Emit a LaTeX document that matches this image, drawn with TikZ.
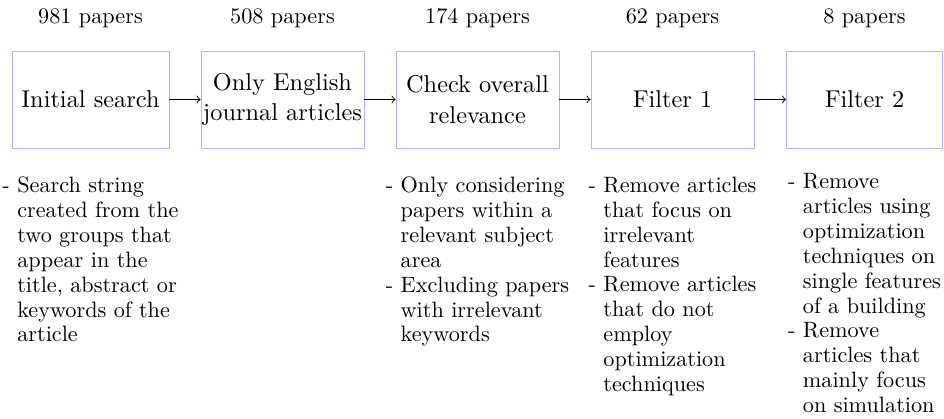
\documentclass[tikz,border=0pt]{standalone}
\usetikzlibrary{arrows}
% indentation that lines up continuation lines after a leading "- "
\newcommand{\dashind}{\hphantom{- }}
\begin{document}
\begin{tikzpicture}[x=0.45pt, y=-0.45pt,
  stagebox/.style={draw=blue!30, line width=0.4pt, inner sep=0pt,
    minimum height=43.65pt, align=center,
    font=\fontsize{10.95}{13.6}\selectfont},
  countlabel/.style={anchor=base, inner sep=0pt,
    font=\fontsize{10}{12}\selectfont},
  notes/.style={anchor=north, inner sep=0pt, align=left,
    font=\fontsize{10}{11.2}\selectfont},
  flow/.style={->, line width=0.4pt}]
\useasboundingbox (0,0) rectangle (944,419);

% stages of the selection process
\node[stagebox, minimum width=70.65pt] (s1) at (90.5,99.5) {Initial search};
\node[stagebox, minimum width=73.35pt] (s2) at (282.5,99.5) {Only English\\journal articles};
\node[stagebox, minimum width=73.35pt] (s3) at (477.5,99.5) {Check overall\\relevance};
\node[stagebox, minimum width=73.35pt] (s4) at (672.5,99.5) {Filter 1};
\node[stagebox, minimum width=70.2pt]  (s5) at (864.5,99.5) {Filter 2};

\draw[flow] (s1) -- (s2);
\draw[flow] (s2) -- (s3);
\draw[flow] (s3) -- (s4);
\draw[flow] (s4) -- (s5);

% number of papers after each stage
\node[countlabel] (c1) at (90.5,23.3)  {981 papers};
\node[countlabel] (c2) at (282.5,23.3) {508 papers};
\node[countlabel] (c3) at (477.5,23.3) {174 papers};
\node[countlabel] (c4) at (672.5,23.3) {62 papers};
\node[countlabel] (c5) at (864.5,23.3) {8 papers};

% criteria applied in each stage
\node[notes] (d1) at (90.5,176.5) {- Search string\\
  \dashind created from the\\
  \dashind two groups that\\
  \dashind appear in the\\
  \dashind title, abstract or\\
  \dashind keywords of the\\
  \dashind article};
\node[notes] (d3) at (477.5,176.5) {- Only considering\\
  \dashind papers within a\\
  \dashind relevant subject\\
  \dashind area\\
  - Excluding papers\\
  \dashind with irrelevant\\
  \dashind keywords};
\node[notes] (d4) at (672.5,176.5) {- Remove articles\\
  \dashind that focus on\\
  \dashind irrelevant\\
  \dashind features\\
  - Remove articles\\
  \dashind that do not\\
  \dashind employ\\
  \dashind optimization\\
  \dashind techniques};
\node[notes] (d5) at (864.5,173) {- Remove\\
  \dashind articles using\\
  \dashind optimization\\
  \dashind techniques on\\
  \dashind single features\\
  \dashind of a building\\
  - Remove\\
  \dashind articles that\\
  \dashind mainly focus\\
  \dashind on simulation};
\end{tikzpicture}
\end{document}
